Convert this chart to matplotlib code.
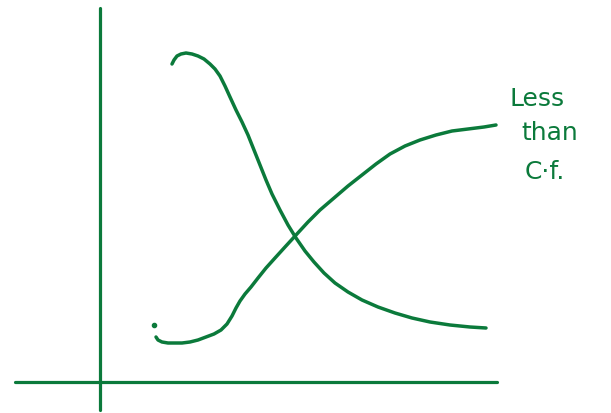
import matplotlib.pyplot as plt

# sketch coordinates (pixels, y grows downward)
falling_x = [172, 174, 177, 181, 186, 192, 198, 204, 210, 215, 220, 225, 230, 236, 242,
             248, 254, 260, 266, 272, 280, 288, 296, 305, 314, 324, 335, 348, 362,
             378, 395, 412, 430, 450, 470, 486]
falling_y = [64, 60, 56, 54, 53, 54, 56, 59, 64, 69, 76, 86, 97, 110, 122,
             135, 150, 165, 180, 194, 210, 225, 238, 251, 262, 273, 283, 292, 300,
             307, 313, 318, 322, 325, 327, 328]

rising_x = [156, 158, 162, 168, 175, 182, 190, 198, 206, 214, 221, 227, 232, 236, 240,
            245, 251, 258, 266, 275, 285, 296, 308, 320, 334, 348, 362, 376, 390,
            405, 420, 436, 452, 468, 484, 496]
rising_y = [337, 340, 342, 343, 343, 343, 342, 340, 337, 334, 330, 324, 316, 308, 301,
            294, 287, 278, 268, 258, 247, 235, 222, 210, 198, 186, 175, 164, 154,
            146, 140, 135, 131, 129, 127, 125]

note_lines = ["Less", "than", "C·f."]
note_x = [509, 521, 525]
note_y = [99, 133, 172]

ink = "#0b7a3b"

fig = plt.figure(figsize=(6.11, 4.13), dpi=100)
ax = fig.add_axes([0, 0, 1, 1])
ax.set_xlim(0, 611)
ax.set_ylim(413, 0)
ax.axis("off")

# axes of the sketch
ax.plot([100, 100], [8, 410], color=ink, lw=2.3, solid_capstyle="round")
ax.plot([15, 497], [382, 382], color=ink, lw=2.3, solid_capstyle="round")

ax.plot(falling_x, falling_y, color=ink, lw=2.5, solid_capstyle="round",
        solid_joinstyle="round")
ax.plot(rising_x, rising_y, color=ink, lw=2.5, solid_capstyle="round",
        solid_joinstyle="round")
ax.plot([154], [325], "o", color=ink, ms=3)

for txt, x, y in zip(note_lines, note_x, note_y):
    ax.text(x, y, txt, color=ink, fontsize=18, ha="left", va="center",
            family="DejaVu Sans")

fig.savefig("out.png", dpi=100)
